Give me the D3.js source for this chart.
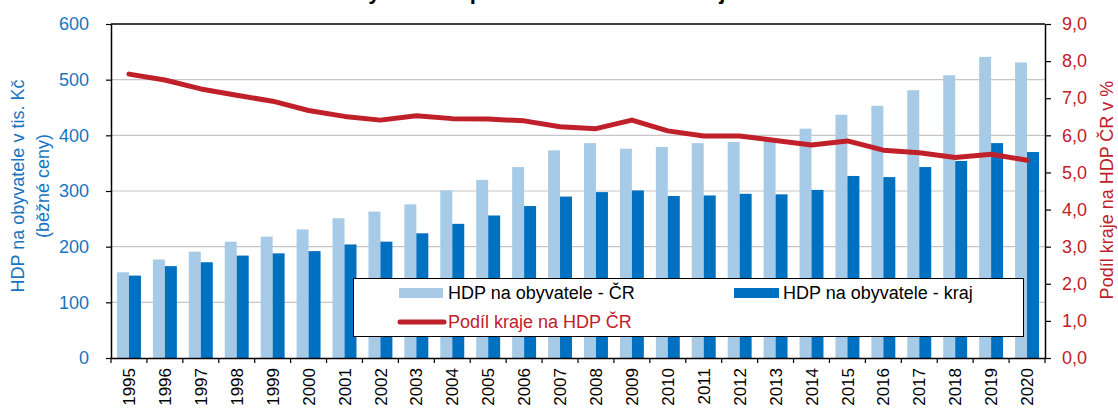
<!DOCTYPE html>
<html>
<head>
<meta charset="utf-8">
<script src="https://cdn.jsdelivr.net/npm/d3@7"></script>
<style>
  body { margin: 0; background: #fff; }
  text { font-family: "Liberation Sans", Arial, sans-serif; }
</style>
</head>
<body>
<script>
var years = ["1995", "1996", "1997", "1998", "1999", "2000", "2001", "2002", "2003", "2004", "2005", "2006", "2007",
    "2008", "2009", "2010", "2011", "2012", "2013", "2014", "2015", "2016", "2017", "2018", "2019", "2020"];
var hdpCR = [154, 177, 191, 209, 218, 231, 251, 263, 276, 301, 320, 343, 373,
    386, 376, 379, 386, 388, 393, 412, 437, 453, 481, 508, 541, 531];
var hdpKraj = [148, 165, 172, 184, 188, 192, 204, 209, 224, 241, 256, 273, 290,
    298, 301, 291, 292, 295, 294, 302, 327, 325, 343, 354, 386, 370];
var podil = [7.65, 7.49, 7.25, 7.08, 6.92, 6.67, 6.51, 6.41, 6.53, 6.45, 6.44, 6.39, 6.23,
    6.18, 6.41, 6.12, 5.98, 5.98, 5.86, 5.74, 5.85, 5.60, 5.53, 5.40, 5.49, 5.33];
var leftTicks = [0, 100, 200, 300, 400, 500, 600];
var rightTicks = [0, 1, 2, 3, 4, 5, 6, 7, 8, 9];

var width = 1118,
    height = 408,
    margin = { top: 24, right: 73, bottom: 50, left: 111 },
    color_cr = "#a7cbe7", color_kraj = "#0070c0", color_podil = "#c0202a",
    color_left = "#1874c1";

var innerW = width - margin.left - margin.right,
    innerH = height - margin.top - margin.bottom;

var root = d3.select("body").append("svg")
    .attr("width", width)
    .attr("height", height);

// title, mostly above the visible area (as in the source picture)
root.append("text")
    .attr("x", 317)
    .attr("y", -1)
    .style("font-size", "22px")
    .style("font-weight", "bold")
    .text("Hrubý domácí produkt v Ústeckém kraji");

var svg = root.append("g")
    .attr("transform", `translate(${margin.left},${margin.top})`);

var xScale0 = d3.scaleBand().domain(years).range([0, innerW]).paddingInner(1 / 3).paddingOuter(1 / 6);
var xScale1 = d3.scaleBand().domain(["cr", "kraj"]).range([0, xScale0.bandwidth()]);
var yScale = d3.scaleLinear().domain([0, 600]).range([innerH, 0]);
var yScaleRight = d3.scaleLinear().domain([0, 9]).range([innerH, 0]);

// gridlines
svg.append("g")
    .attr("class", "grid")
    .selectAll("line")
    .data(leftTicks.filter(d => d > 0 && d < 600))
    .enter().append("line")
    .attr("x1", 0)
    .attr("x2", innerW)
    .attr("y1", d => yScale(d))
    .attr("y2", d => yScale(d))
    .attr("stroke", "#c6c6c6")
    .attr("stroke-width", 1.2);

var year = svg.selectAll(".year")
    .data(years)
    .enter().append("g")
    .attr("class", "year")
    .attr("transform", d => `translate(${xScale0(d)},0)`);

/* CR bars */
year.append("rect")
    .attr("x", xScale1("cr"))
    .attr("y", (d, i) => yScale(hdpCR[i]))
    .attr("width", xScale1.bandwidth())
    .attr("height", (d, i) => innerH - yScale(hdpCR[i]))
    .attr("fill", color_cr);

/* kraj bars */
year.append("rect")
    .attr("x", xScale1("kraj"))
    .attr("y", (d, i) => yScale(hdpKraj[i]))
    .attr("width", xScale1.bandwidth())
    .attr("height", (d, i) => innerH - yScale(hdpKraj[i]))
    .attr("fill", color_kraj);

// share line
var line = d3.line()
    .x((d, i) => xScale0(years[i]) + xScale0.bandwidth() / 2)
    .y(d => yScaleRight(d));

svg.append("path")
    .datum(podil)
    .attr("d", line)
    .attr("fill", "none")
    .attr("stroke", color_podil)
    .attr("stroke-width", 5)
    .attr("stroke-linejoin", "round")
    .attr("stroke-linecap", "round");

// legend
var legend = root.append("g").attr("class", "legend");

legend.append("rect")
    .attr("x", 353.5)
    .attr("y", 278.5)
    .attr("width", 670)
    .attr("height", 58)
    .attr("fill", "#fff")
    .attr("stroke", "#000")
    .attr("stroke-width", 1);

legend.append("rect")
    .attr("x", 399).attr("y", 288).attr("width", 44).attr("height", 10)
    .attr("fill", color_cr);
legend.append("text")
    .attr("x", 448).attr("y", 299)
    .style("font-size", "18px")
    .text("HDP na obyvatele - ČR");

legend.append("rect")
    .attr("x", 734).attr("y", 288).attr("width", 45).attr("height", 10)
    .attr("fill", color_kraj);
legend.append("text")
    .attr("x", 783).attr("y", 299)
    .style("font-size", "18px")
    .text("HDP na obyvatele - kraj");

legend.append("line")
    .attr("x1", 400).attr("x2", 444).attr("y1", 322).attr("y2", 322)
    .attr("stroke", color_podil)
    .attr("stroke-width", 5)
    .attr("stroke-linecap", "round");
legend.append("text")
    .attr("x", 448).attr("y", 328)
    .style("font-size", "18px")
    .attr("fill", color_podil)
    .text("Podíl kraje na HDP ČR");

// top border
svg.append("line")
    .attr("x1", 0).attr("x2", innerW)
    .attr("y1", 0).attr("y2", 0)
    .attr("stroke", "#000")
    .attr("stroke-width", 1.5);

// X axis: labels under categories, ticks at category boundaries
var xAxis = svg.append("g")
    .attr("class", "x axis")
    .attr("transform", `translate(0,${innerH})`)
    .call(d3.axisBottom(xScale0).tickSize(0).tickSizeOuter(0));

xAxis.select(".domain").attr("stroke", "#000").attr("stroke-width", 1.5);
xAxis.selectAll("text")
    .attr("transform", "rotate(-90)")
    .attr("text-anchor", "end")
    .attr("x", -10)
    .attr("y", 0)
    .attr("dy", "0.36em")
    .attr("fill", "#000")
    .style("font-size", "17px");

var step = xScale0.step();
xAxis.selectAll(".boundary")
    .data(years.concat(["end"]))
    .enter().append("line")
    .attr("class", "boundary")
    .attr("x1", (d, i) => i * step)
    .attr("x2", (d, i) => i * step)
    .attr("y1", 0)
    .attr("y2", 5)
    .attr("stroke", "#000")
    .attr("stroke-width", 1.2);

// Y axis left
var yAxis = svg.append("g")
    .attr("class", "y axis")
    .call(d3.axisLeft(yScale).tickValues(leftTicks).tickSize(5).tickSizeOuter(0).tickPadding(17));
yAxis.select(".domain").attr("stroke", "#000").attr("stroke-width", 1.5);
yAxis.selectAll(".tick line").attr("stroke", "#000").attr("stroke-width", 1.2);
yAxis.selectAll("text").attr("fill", color_left).style("font-size", "18px");

// Y axis right
var yAxisRight = svg.append("g")
    .attr("class", "y axis right")
    .attr("transform", `translate(${innerW},0)`)
    .call(d3.axisRight(yScaleRight).tickValues(rightTicks)
        .tickFormat(d => d3.format(".1f")(d).replace(".", ","))
        .tickSize(6).tickSizeOuter(0).tickPadding(11));
yAxisRight.select(".domain").attr("stroke", "#000").attr("stroke-width", 1.5);
yAxisRight.selectAll(".tick line").attr("stroke", "#000").attr("stroke-width", 1.2);
yAxisRight.selectAll("text").attr("fill", color_podil).style("font-size", "18px");

// axis titles
var leftTitle = root.append("text")
    .attr("transform", "translate(18,186) rotate(-90)")
    .attr("text-anchor", "middle")
    .attr("fill", color_left)
    .style("font-size", "18px");
leftTitle.append("tspan").attr("x", 0).attr("dy", "0.35em").text("HDP na obyvatele v tis. Kč");
leftTitle.append("tspan").attr("x", 0).attr("dy", "1.4em").text("(běžné ceny)");

root.append("text")
    .attr("transform", "translate(1107,190) rotate(-90)")
    .attr("text-anchor", "middle")
    .attr("dy", "0.35em")
    .attr("fill", color_podil)
    .style("font-size", "18px")
    .text("Podíl kraje na HDP ČR v %");
</script>
</body>
</html>
